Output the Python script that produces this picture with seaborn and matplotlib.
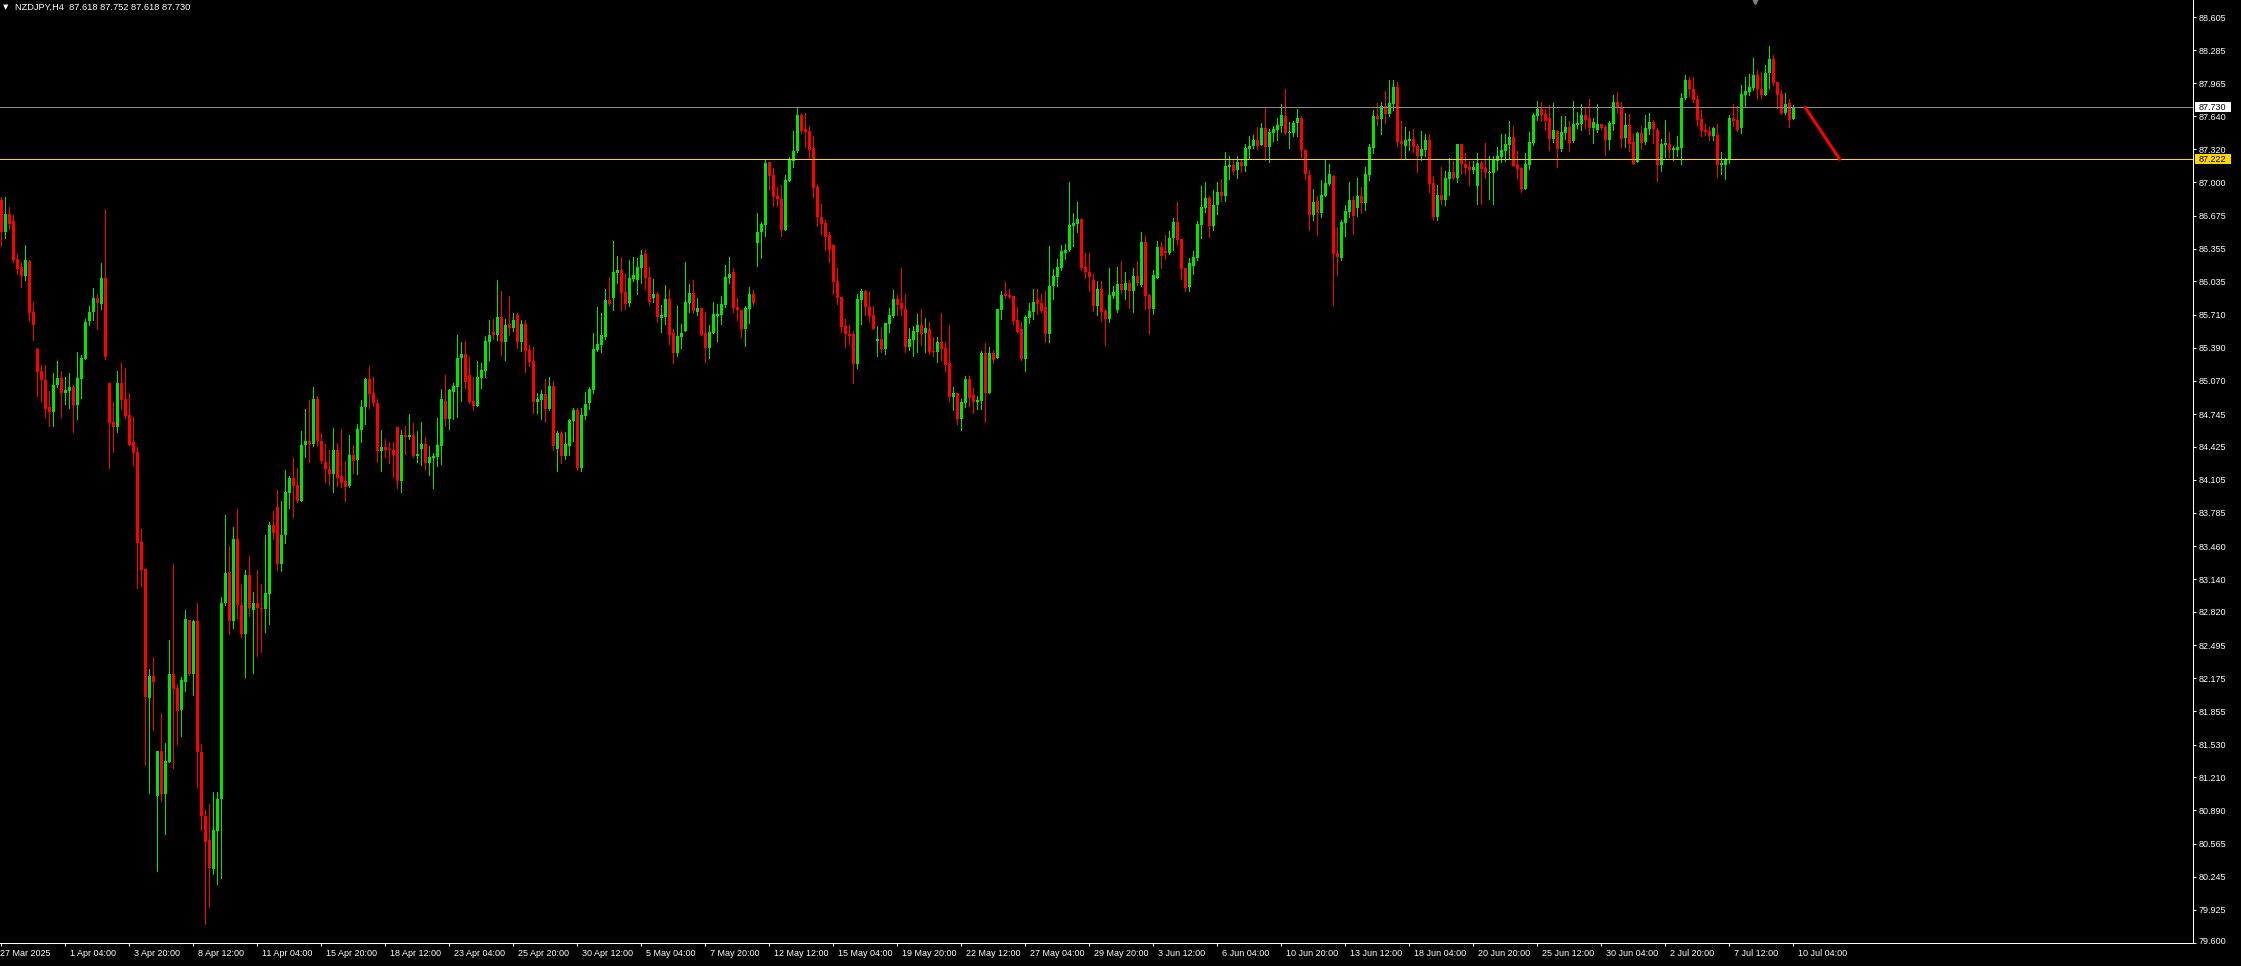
import numpy as np
import pandas as pd
import matplotlib
matplotlib.use("Agg")
import matplotlib.pyplot as plt
import matplotlib.transforms as mtransforms
from matplotlib.patches import Rectangle
import seaborn as sns

# ——— Data (NZDJPY, H4 bars, 27 Mar 12:00 – 10 Jul 04:00) ———
header_text = "NZDJPY,H4  87.618 87.752 87.618 87.730"

opens = [
    86.83, 86.52, 86.69, 86.62, 86.25, 86.18, 86.09, 86.23, 85.74, 85.38,
    85.16, 85.08, 84.81, 84.77, 85.03, 85.10, 84.95, 84.97, 85.01, 84.83,
    85.09, 85.28, 85.65, 85.74, 85.87, 85.82, 86.07, 85.05, 84.67, 84.62,
    85.05, 84.89, 84.74, 84.47, 84.38, 83.50, 83.24, 81.98, 82.20, 81.03,
    81.47, 81.05, 81.36, 82.22, 82.08, 81.87, 82.14, 82.74, 82.22, 82.73,
    81.46, 80.84, 80.60, 80.32, 80.69, 81.00, 82.91, 83.21, 82.73, 83.53,
    82.89, 82.61, 83.18, 82.84, 82.91, 82.86, 82.85, 82.99, 83.67, 83.84,
    83.29, 83.57, 83.98, 84.12, 84.06, 83.90, 84.44, 84.48, 84.45, 84.89,
    84.48, 84.28, 84.21, 84.16, 84.40, 84.14, 84.09, 84.05, 84.35, 84.30,
    84.59, 84.81, 85.09, 84.95, 84.85, 84.39, 84.42, 84.41, 84.40, 84.62,
    84.09, 84.54, 84.52, 84.54, 84.34, 84.41, 84.45, 84.27, 84.32, 84.33,
    84.43, 84.87, 84.70, 84.96, 85.01, 85.29, 85.33, 85.13, 84.87, 84.82,
    85.10, 85.16, 85.45, 85.54, 85.51, 85.69, 85.45, 85.62, 85.58, 85.71,
    85.45, 85.62, 85.37, 85.26, 84.86, 84.88, 84.94, 84.79, 85.02, 84.41,
    84.56, 84.34, 84.43, 84.68, 84.78, 84.22, 84.73, 84.85, 84.98, 85.37,
    85.42, 85.49, 85.85, 85.87, 86.12, 86.15, 85.93, 85.83, 86.06, 86.05,
    86.17, 86.30, 86.08, 85.87, 85.91, 85.68, 85.69, 85.86, 85.53, 85.34,
    85.49, 85.55, 85.83, 85.92, 85.74, 85.78, 85.53, 85.39, 85.53, 85.70,
    85.71, 85.81, 86.07, 86.13, 85.79, 85.76, 85.57, 85.77, 85.91, 86.41,
    86.52, 86.58, 87.20, 87.07, 86.87, 86.84, 86.54, 87.01, 87.21, 87.30,
    87.65, 87.52, 87.50, 87.33, 86.95, 86.66, 86.60, 86.49, 86.39, 86.04,
    85.88, 85.60, 85.52, 85.52, 85.23, 85.85, 85.94, 85.79, 85.71, 85.46,
    85.48, 85.38, 85.62, 85.70, 85.86, 85.83, 85.77, 85.40, 85.47, 85.54,
    85.61, 85.53, 85.57, 85.36, 85.35, 85.45, 85.39, 85.24, 84.91, 84.95,
    84.70, 84.85, 85.09, 84.93, 84.86, 84.87, 85.34, 84.95, 85.34, 85.29,
    85.76, 85.91, 85.90, 85.89, 85.66, 85.57, 85.28, 85.68, 85.74, 85.85,
    85.83, 85.79, 85.52, 85.99, 86.08, 86.17, 86.31, 86.34, 86.57, 86.59,
    86.64, 86.18, 86.13, 86.05, 85.80, 85.96, 85.75, 85.67, 85.89, 85.76,
    86.01, 85.95, 86.02, 85.94, 86.09, 86.00, 86.42, 85.90, 85.77, 86.07,
    86.37, 86.33, 86.31, 86.46, 86.61, 86.45, 86.17, 85.98, 86.19, 86.26,
    86.58, 86.75, 86.85, 86.57, 86.78, 86.91, 86.87, 87.15, 87.17, 87.12,
    87.20, 87.16, 87.32, 87.35, 87.41, 87.36, 87.53, 87.34, 87.48, 87.51,
    87.55, 87.64, 87.48, 87.48, 87.58, 87.63, 87.31, 87.07, 86.68, 86.82,
    86.70, 86.87, 86.98, 87.06, 86.31, 86.26, 86.60, 86.71, 86.83, 86.75,
    86.87, 86.80, 87.07, 87.33, 87.64, 87.62, 87.74, 87.66, 87.76, 87.93,
    87.40, 87.35, 87.40, 87.42, 87.35, 87.26, 87.31, 87.41, 86.99, 86.66,
    86.88, 86.83, 87.03, 87.10, 87.04, 87.37, 87.18, 87.15, 87.12, 86.96,
    87.19, 87.14, 87.09, 87.09, 87.21, 87.25, 87.30, 87.36, 87.44, 87.17,
    87.14, 86.93, 87.17, 87.38, 87.64, 87.71, 87.66, 87.63, 87.42, 87.50,
    87.32, 87.48, 87.54, 87.40, 87.56, 87.57, 87.65, 87.63, 87.53, 87.51,
    87.57, 87.54, 87.41, 87.57, 87.78, 87.72, 87.43, 87.56, 87.39, 87.20,
    87.48, 87.39, 87.52, 87.59, 87.51, 87.17, 87.36, 87.37, 87.31, 87.31,
    87.33, 87.82, 87.99, 87.91, 87.81, 87.62, 87.51, 87.50, 87.45, 87.46,
    87.17, 87.17, 87.22, 87.63, 87.61, 87.53, 87.85, 87.88, 87.92, 88.04,
    87.91, 87.85, 88.06, 88.20, 87.98, 87.86, 87.67, 87.77, 87.618,
]

highs = [
    86.86, 86.86, 86.76, 86.68, 86.30, 86.22, 86.39, 86.24, 85.84, 85.39,
    85.22, 85.22, 84.97, 85.14, 85.26, 85.16, 85.11, 85.14, 85.03, 85.35,
    85.32, 85.67, 85.80, 85.97, 85.91, 86.21, 86.74, 85.05, 84.86, 85.16,
    85.24, 85.19, 84.95, 84.72, 84.42, 83.63, 83.24, 82.27, 82.38, 81.47,
    81.84, 81.55, 82.55, 83.29, 82.12, 82.19, 82.84, 82.74, 82.74, 82.91,
    81.54, 80.89, 80.95, 81.07, 81.07, 82.97, 83.76, 83.46, 83.65, 83.82,
    83.09, 83.23, 83.36, 83.01, 83.23, 83.09, 83.57, 83.70, 83.80, 84.01,
    83.90, 84.20, 84.14, 84.32, 84.22, 84.58, 84.79, 84.88, 85.01, 84.92,
    84.56, 84.45, 84.40, 84.61, 84.46, 84.60, 84.29, 84.54, 84.44, 84.65,
    84.88, 85.10, 85.21, 85.11, 84.89, 84.59, 84.50, 84.47, 84.47, 84.62,
    84.59, 84.63, 84.75, 84.66, 84.58, 84.67, 84.52, 84.43, 84.37, 84.71,
    84.99, 85.13, 84.99, 85.05, 85.51, 85.45, 85.46, 85.30, 85.11, 85.26,
    85.24, 85.50, 85.66, 85.67, 86.05, 85.94, 85.67, 85.89, 85.73, 85.73,
    85.66, 85.66, 85.42, 85.40, 84.95, 84.98, 85.09, 85.11, 85.07, 84.58,
    84.58, 84.57, 84.70, 84.80, 84.80, 84.80, 84.96, 85.01, 85.53, 85.79,
    85.73, 85.96, 86.08, 86.43, 86.28, 86.27, 86.11, 86.24, 86.27, 86.26,
    86.34, 86.34, 86.18, 86.06, 85.93, 85.81, 86.00, 85.96, 85.57, 85.80,
    85.62, 86.22, 86.01, 86.05, 85.87, 85.78, 85.74, 85.61, 85.84, 85.82,
    85.89, 86.20, 86.27, 86.17, 85.87, 85.76, 85.80, 85.98, 85.95, 86.70,
    86.61, 87.22, 87.20, 87.14, 86.95, 86.97, 87.07, 87.25, 87.50, 87.72,
    87.67, 87.67, 87.55, 87.45, 86.97, 86.79, 86.63, 86.52, 86.39, 86.17,
    85.88, 85.67, 85.61, 85.55, 85.91, 85.96, 85.95, 85.93, 85.80, 85.60,
    85.59, 85.63, 85.78, 85.95, 85.90, 86.17, 85.91, 85.58, 85.60, 85.72,
    85.77, 85.68, 85.64, 85.49, 85.49, 85.73, 85.45, 85.61, 85.01, 84.95,
    84.89, 85.12, 85.12, 85.00, 84.92, 85.36, 85.44, 85.40, 85.37, 85.77,
    85.94, 86.03, 85.96, 85.89, 85.79, 85.64, 85.71, 85.83, 85.96, 85.96,
    85.91, 85.94, 86.38, 86.16, 86.25, 86.39, 86.40, 87.00, 86.70, 86.81,
    86.65, 86.31, 86.31, 86.11, 86.04, 86.04, 85.77, 86.17, 85.99, 86.18,
    86.23, 86.13, 86.05, 86.17, 86.23, 86.52, 86.48, 85.91, 86.15, 86.43,
    86.42, 86.49, 86.53, 86.65, 86.81, 86.45, 86.17, 86.26, 86.33, 86.62,
    86.96, 87.00, 86.87, 86.92, 87.00, 87.03, 87.29, 87.26, 87.23, 87.26,
    87.23, 87.37, 87.45, 87.46, 87.54, 87.58, 87.72, 87.52, 87.55, 87.63,
    87.76, 87.91, 87.59, 87.60, 87.71, 87.64, 87.32, 87.12, 86.93, 86.87,
    87.02, 87.23, 87.18, 87.07, 86.56, 86.63, 86.78, 87.00, 86.87, 87.04,
    86.95, 87.15, 87.37, 87.70, 87.77, 87.78, 87.89, 87.99, 87.99, 87.98,
    87.60, 87.54, 87.50, 87.52, 87.37, 87.50, 87.47, 87.47, 87.06, 86.97,
    87.15, 87.11, 87.24, 87.21, 87.37, 87.37, 87.28, 87.21, 87.21, 87.28,
    87.21, 87.38, 87.26, 87.26, 87.34, 87.47, 87.47, 87.60, 87.55, 87.30,
    87.15, 87.28, 87.49, 87.67, 87.79, 87.78, 87.71, 87.75, 87.77, 87.51,
    87.64, 87.64, 87.60, 87.79, 87.68, 87.76, 87.72, 87.81, 87.63, 87.76,
    87.57, 87.56, 87.60, 87.85, 87.88, 87.78, 87.67, 87.66, 87.47, 87.49,
    87.55, 87.65, 87.67, 87.61, 87.53, 87.42, 87.61, 87.49, 87.35, 87.45,
    87.87, 88.04, 88.02, 88.02, 87.85, 87.70, 87.57, 87.54, 87.54, 87.57,
    87.29, 87.24, 87.65, 87.76, 87.74, 87.95, 88.02, 88.05, 88.21, 88.09,
    88.07, 88.14, 88.33, 88.24, 87.98, 87.90, 87.87, 87.81, 87.752,
]

lows = [
    86.38, 86.46, 86.55, 86.22, 86.11, 85.98, 86.05, 85.65, 85.47, 84.92,
    84.87, 84.72, 84.63, 84.63, 85.01, 84.72, 84.84, 84.80, 84.57, 84.70,
    84.90, 85.28, 85.61, 85.66, 85.57, 85.77, 85.28, 84.22, 84.38, 84.57,
    84.79, 84.71, 84.44, 84.25, 83.05, 83.07, 81.33, 81.06, 81.67, 80.30,
    80.98, 80.66, 81.36, 81.30, 81.54, 81.61, 82.05, 82.21, 82.01, 81.12,
    80.70, 79.78, 79.95, 80.27, 80.17, 80.23, 82.89, 82.61, 82.66, 82.76,
    82.58, 82.19, 82.78, 82.23, 82.39, 82.43, 82.63, 82.70, 83.53, 83.23,
    83.22, 83.49, 83.83, 83.74, 83.89, 83.90, 84.33, 84.28, 84.43, 84.44,
    84.27, 84.08, 84.06, 83.99, 84.05, 84.04, 83.90, 84.04, 84.17, 84.16,
    84.47, 84.65, 84.80, 84.82, 84.28, 84.19, 84.33, 84.27, 84.13, 84.03,
    83.99, 84.36, 84.50, 84.33, 84.28, 84.25, 84.20, 84.15, 84.03, 84.24,
    84.26, 84.63, 84.60, 84.70, 84.72, 84.87, 85.00, 84.85, 84.78, 84.82,
    85.00, 85.11, 85.27, 85.48, 85.47, 85.32, 85.27, 85.51, 85.55, 85.39,
    85.36, 85.15, 85.21, 84.76, 84.76, 84.70, 84.67, 84.78, 84.40, 84.19,
    84.27, 84.31, 84.35, 84.48, 84.20, 84.19, 84.70, 84.79, 84.95, 85.36,
    85.35, 85.48, 85.81, 85.76, 86.02, 85.76, 85.77, 85.80, 86.04, 85.91,
    86.02, 85.96, 85.81, 85.84, 85.64, 85.54, 85.62, 85.43, 85.24, 85.31,
    85.39, 85.55, 85.74, 85.73, 85.71, 85.51, 85.25, 85.29, 85.53, 85.46,
    85.62, 85.79, 86.02, 85.74, 85.66, 85.49, 85.41, 85.63, 85.81, 86.19,
    86.26, 86.48, 86.92, 86.77, 86.77, 86.48, 86.54, 87.01, 87.15, 87.29,
    87.48, 87.34, 87.24, 86.86, 86.57, 86.50, 86.34, 86.22, 85.91, 85.82,
    85.54, 85.40, 85.43, 85.05, 85.19, 85.62, 85.71, 85.65, 85.57, 85.31,
    85.35, 85.33, 85.54, 85.69, 85.71, 85.71, 85.35, 85.37, 85.31, 85.35,
    85.42, 85.35, 85.33, 85.31, 85.25, 85.27, 85.16, 84.87, 84.78, 84.65,
    84.59, 84.81, 84.82, 84.76, 84.79, 84.79, 84.67, 84.95, 85.24, 85.29,
    85.67, 85.87, 85.87, 85.62, 85.54, 85.27, 85.16, 85.63, 85.67, 85.72,
    85.74, 85.45, 85.45, 85.86, 85.99, 86.15, 86.25, 86.33, 86.38, 86.52,
    86.15, 86.07, 85.94, 85.75, 85.71, 85.65, 85.42, 85.64, 85.87, 85.74,
    85.92, 85.86, 85.78, 85.74, 86.00, 85.99, 85.77, 85.52, 85.72, 86.07,
    86.17, 86.25, 86.30, 86.34, 86.40, 86.06, 85.94, 85.94, 86.11, 86.24,
    86.46, 86.71, 86.47, 86.54, 86.69, 86.82, 86.82, 87.03, 87.08, 87.04,
    87.10, 87.11, 87.24, 87.33, 87.32, 87.36, 87.22, 87.20, 87.40, 87.41,
    87.49, 87.47, 87.33, 87.45, 87.45, 87.25, 87.03, 86.54, 86.63, 86.49,
    86.66, 86.87, 86.97, 85.81, 86.10, 86.24, 86.48, 86.66, 86.50, 86.67,
    86.70, 86.73, 87.02, 87.28, 87.56, 87.47, 87.58, 87.64, 87.70, 87.35,
    87.24, 87.24, 87.31, 87.29, 87.10, 87.22, 87.26, 86.91, 86.63, 86.63,
    86.79, 86.78, 86.88, 87.03, 87.00, 87.08, 87.08, 86.97, 87.09, 86.79,
    86.79, 87.04, 86.84, 86.79, 87.12, 87.20, 87.21, 87.23, 87.16, 87.04,
    86.91, 86.93, 87.13, 87.36, 87.61, 87.60, 87.51, 87.31, 87.39, 87.15,
    87.30, 87.42, 87.30, 87.39, 87.53, 87.51, 87.53, 87.47, 87.38, 87.49,
    87.52, 87.27, 87.32, 87.51, 87.68, 87.34, 87.34, 87.30, 87.18, 87.20,
    87.32, 87.37, 87.47, 87.38, 87.01, 87.11, 87.25, 87.25, 87.22, 87.26,
    87.18, 87.81, 87.84, 87.78, 87.55, 87.45, 87.46, 87.41, 87.41, 87.05,
    87.08, 87.03, 87.19, 87.55, 87.50, 87.48, 87.74, 87.85, 87.90, 87.82,
    87.82, 87.85, 87.92, 87.95, 87.72, 87.66, 87.66, 87.54, 87.618,
]

closes = [
    86.52, 86.69, 86.59, 86.24, 86.16, 86.09, 86.24, 85.73, 85.61, 85.15,
    85.08, 84.79, 84.77, 85.03, 85.10, 84.95, 84.98, 85.01, 84.83, 85.10,
    85.29, 85.64, 85.74, 85.87, 85.83, 86.07, 85.30, 84.66, 84.62, 85.05,
    84.88, 84.73, 84.44, 84.37, 83.49, 83.23, 81.99, 82.20, 82.14, 81.47,
    81.05, 81.37, 82.22, 82.07, 81.86, 82.16, 82.75, 82.22, 82.73, 81.46,
    80.84, 80.58, 80.33, 80.70, 81.00, 82.91, 83.20, 82.73, 83.53, 82.89,
    82.61, 83.18, 82.86, 82.91, 82.86, 82.85, 83.00, 83.67, 83.59, 83.29,
    83.57, 83.99, 84.12, 84.05, 83.90, 84.44, 84.48, 84.45, 84.89, 84.48,
    84.29, 84.21, 84.16, 84.40, 84.12, 84.07, 84.04, 84.35, 84.29, 84.60,
    84.81, 85.09, 84.94, 84.85, 84.39, 84.42, 84.40, 84.40, 84.35, 84.09,
    84.54, 84.52, 84.54, 84.34, 84.36, 84.45, 84.27, 84.33, 84.34, 84.44,
    84.89, 84.70, 84.98, 85.02, 85.29, 85.33, 85.06, 84.86, 84.82, 85.11,
    85.17, 85.46, 85.51, 85.51, 85.69, 85.45, 85.61, 85.58, 85.66, 85.45,
    85.62, 85.36, 85.25, 84.86, 84.89, 84.94, 84.79, 85.02, 84.43, 84.56,
    84.34, 84.45, 84.69, 84.78, 84.22, 84.74, 84.84, 84.99, 85.38, 85.43,
    85.51, 85.85, 85.82, 86.13, 86.15, 85.92, 85.82, 86.07, 86.10, 86.18,
    86.29, 86.07, 85.84, 85.91, 85.69, 85.71, 85.86, 85.51, 85.34, 85.50,
    85.53, 85.84, 85.92, 85.75, 85.78, 85.51, 85.39, 85.54, 85.72, 85.72,
    85.82, 86.08, 86.11, 85.78, 85.76, 85.57, 85.78, 85.91, 85.83, 86.52,
    86.59, 87.19, 87.06, 86.86, 86.84, 86.54, 87.02, 87.22, 87.30, 87.65,
    87.50, 87.49, 87.31, 86.94, 86.66, 86.59, 86.47, 86.34, 86.03, 85.87,
    85.59, 85.52, 85.50, 85.23, 85.86, 85.94, 85.79, 85.70, 85.57, 85.48,
    85.38, 85.63, 85.71, 85.86, 85.81, 85.77, 85.40, 85.48, 85.55, 85.61,
    85.52, 85.58, 85.35, 85.35, 85.45, 85.38, 85.22, 84.91, 84.95, 84.70,
    84.86, 85.09, 84.90, 84.86, 84.88, 85.34, 84.95, 85.34, 85.27, 85.77,
    85.90, 85.89, 85.88, 85.65, 85.54, 85.28, 85.69, 85.75, 85.84, 85.82,
    85.75, 85.52, 85.99, 86.09, 86.18, 86.33, 86.34, 86.58, 86.60, 86.64,
    86.17, 86.13, 86.08, 85.80, 85.96, 85.74, 85.67, 85.90, 85.93, 86.01,
    85.95, 86.02, 85.94, 86.09, 86.02, 86.42, 85.89, 85.77, 86.10, 86.37,
    86.28, 86.31, 86.46, 86.61, 86.44, 86.16, 85.97, 86.21, 86.27, 86.59,
    86.76, 86.85, 86.57, 86.78, 86.91, 86.87, 87.16, 87.17, 87.11, 87.20,
    87.16, 87.33, 87.35, 87.41, 87.35, 87.53, 87.34, 87.49, 87.52, 87.56,
    87.65, 87.48, 87.49, 87.58, 87.63, 87.31, 87.08, 86.68, 86.81, 86.70,
    86.88, 86.99, 87.08, 86.30, 86.27, 86.61, 86.72, 86.83, 86.67, 86.87,
    86.80, 87.08, 87.34, 87.64, 87.62, 87.74, 87.66, 87.77, 87.93, 87.39,
    87.37, 87.41, 87.42, 87.34, 87.26, 87.32, 87.41, 86.98, 86.66, 86.88,
    86.83, 87.04, 87.10, 87.04, 87.37, 87.18, 87.14, 87.12, 87.15, 87.19,
    87.13, 87.09, 87.10, 87.22, 87.26, 87.31, 87.37, 87.44, 87.16, 87.13,
    86.93, 87.18, 87.39, 87.65, 87.71, 87.65, 87.60, 87.42, 87.51, 87.32,
    87.49, 87.54, 87.38, 87.57, 87.58, 87.65, 87.61, 87.53, 87.59, 87.57,
    87.53, 87.41, 87.58, 87.78, 87.72, 87.42, 87.56, 87.37, 87.18, 87.48,
    87.38, 87.53, 87.59, 87.52, 87.17, 87.37, 87.38, 87.31, 87.33, 87.34,
    87.82, 87.99, 87.91, 87.80, 87.61, 87.50, 87.49, 87.45, 87.53, 87.17,
    87.19, 87.22, 87.63, 87.60, 87.51, 87.86, 87.89, 87.93, 88.04, 87.91,
    87.85, 88.06, 88.20, 87.97, 87.85, 87.67, 87.76, 87.61, 87.730,
]

bid_price = 87.730
level_price = 87.222

# drawn trend line (bar index, price)
trend_bars = [451.0, 459.7]
trend_prices = [87.730, 87.222]

price_ticks = [88.605, 88.285, 87.965, 87.640, 87.320, 87.000, 86.675, 86.355,
               86.035, 85.710, 85.390, 85.070, 84.745, 84.425, 84.105, 83.785,
               83.460, 83.140, 82.820, 82.495, 82.175, 81.855, 81.530, 81.210,
               80.890, 80.565, 80.245, 79.925, 79.600]

time_labels = ["27 Mar 2025", "1 Apr 04:00", "3 Apr 20:00", "8 Apr 12:00",
               "11 Apr 04:00", "15 Apr 20:00", "18 Apr 12:00", "23 Apr 04:00",
               "25 Apr 20:00", "30 Apr 12:00", "5 May 04:00", "7 May 20:00",
               "12 May 12:00", "15 May 04:00", "19 May 20:00", "22 May 12:00",
               "27 May 04:00", "29 May 20:00", "3 Jun 12:00", "6 Jun 04:00",
               "10 Jun 20:00", "13 Jun 12:00", "18 Jun 04:00", "20 Jun 20:00",
               "25 Jun 12:00", "30 Jun 04:00", "2 Jul 20:00", "7 Jul 12:00",
               "10 Jul 04:00"]

# ——— Configuration ———
W, H, DPI = 2241, 966, 100
PX = 72.0 / DPI                 # one pixel in points
bull_color = "#00e600"
bear_color = "#ff0000"
bid_color = "#8c8c8c"
level_color = "#ffd700"
text_color = "#ffffff"
label_size = 6.5

sns.set_style("dark", {"axes.facecolor": "black", "figure.facecolor": "black"})
plt.rcParams["font.family"] = ["Liberation Sans", "DejaVu Sans"]

# H4 bar times (weekdays only)
bar_times = pd.date_range("2025-03-27 12:00", "2025-07-10 04:00", freq="4h")
bar_times = bar_times[bar_times.dayofweek < 5]

df = pd.DataFrame({"time": bar_times, "open": opens, "high": highs,
                   "low": lows, "close": closes})
df["bar"] = np.arange(len(df))
df["up"] = df["close"] >= df["open"]
colors = np.where(df["up"], bull_color, bear_color)

fig = plt.figure(figsize=(W / DPI, H / DPI), dpi=DPI, facecolor="black")
ax = fig.add_axes([0, 22.7 / H, 2193 / W, 943.3 / H])
ax.set_facecolor("black")
ax.grid(False)

# wicks + bodies
ax.vlines(df["bar"], df["low"], df["high"], colors=colors,
          linewidth=PX, antialiased=False, zorder=3)
body_lo = np.minimum(df["open"], df["close"])
body_h = np.maximum((df["close"] - df["open"]).abs(), 0.008)
ax.bar(df["bar"], body_h, bottom=body_lo, width=0.75, color=colors,
       linewidth=0, antialiased=False, zorder=4)

# horizontal levels
ax.axhline(bid_price, color=bid_color, linewidth=PX, antialiased=False, zorder=5)
ax.axhline(level_price, color=level_color, linewidth=PX, antialiased=False, zorder=5)

# trend line
sns.lineplot(x=trend_bars, y=trend_prices, ax=ax, color=bear_color,
             linewidth=3 * PX, zorder=6, sort=False)

ax.set_xlim(-0.25, 548.0)
ax.set_ylim(79.597, 88.773)

# spines
for side in ("left", "top"):
    ax.spines[side].set_visible(False)
for side in ("right", "bottom"):
    ax.spines[side].set_visible(True)
    ax.spines[side].set_color(text_color)
    ax.spines[side].set_linewidth(PX)

# right price scale
ax.yaxis.tick_right()
ax.set_yticks(price_ticks)
ax.set_yticklabels([f"{p:.3f}" for p in price_ticks])
ax.tick_params(axis="y", which="both", right=True, left=False, labelright=True,
               labelleft=False, length=3 * PX, width=PX, color=text_color,
               labelcolor=text_color, labelsize=label_size, pad=3 * PX, direction="out")
ylabels = ax.get_yticklabels()
ylabels[-1].set_transform(ylabels[-1].get_transform() +
                          mtransforms.ScaledTranslation(0, 2 / DPI, fig.dpi_scale_trans))

# time scale
tick_bars = [0] + [bar_times.get_loc(pd.to_datetime(lbl + " 2025", format="%d %b %H:%M %Y"))
                   for lbl in time_labels[1:]]
ax.set_xticks(tick_bars)
ax.set_xticklabels(time_labels)
ax.tick_params(axis="x", which="both", bottom=True, top=False, length=3 * PX, width=PX,
               color=text_color, labelcolor=text_color, labelsize=label_size,
               pad=7.7 * PX, direction="out")
for k, lab in enumerate(ax.get_xticklabels()):
    lab.set_horizontalalignment("left")
    lab.set_verticalalignment("center")
    dx = -1 if k == 0 else 5
    lab.set_transform(lab.get_transform() +
                      mtransforms.ScaledTranslation(dx / DPI, 0, fig.dpi_scale_trans))
ax.set_xlabel("")
ax.set_ylabel("")

# price tags on the scale
box_h = 10 / 102.8
for price, face in [(bid_price, "white"), (level_price, level_color)]:
    tag = Rectangle((2195 / 2193, price - box_h / 2), 36 / 2193, box_h,
                    transform=mtransforms.blended_transform_factory(ax.transAxes, ax.transData),
                    facecolor=face, edgecolor="none", clip_on=False, zorder=10)
    ax.add_patch(tag)
    ax.text(2199 / 2193, price, f"{price:.3f}", color="black", fontsize=label_size,
            ha="left", va="center", zorder=11, clip_on=False,
            transform=mtransforms.blended_transform_factory(ax.transAxes, ax.transData))

# chart-shift marker
ax.plot([438.5], [88.76], marker="v", markersize=5, color="#808080",
        clip_on=False, zorder=7)

# header
fig.text(3 / W, 1 - 7.5 / H, "▼", color=text_color, fontsize=5,
         ha="left", va="center", family=["DejaVu Sans"])
fig.text(15 / W, 1 - 7.3 / H, header_text, color=text_color, fontsize=6.7,
         ha="left", va="center")

fig.savefig("out.png", dpi=DPI, facecolor="black")
